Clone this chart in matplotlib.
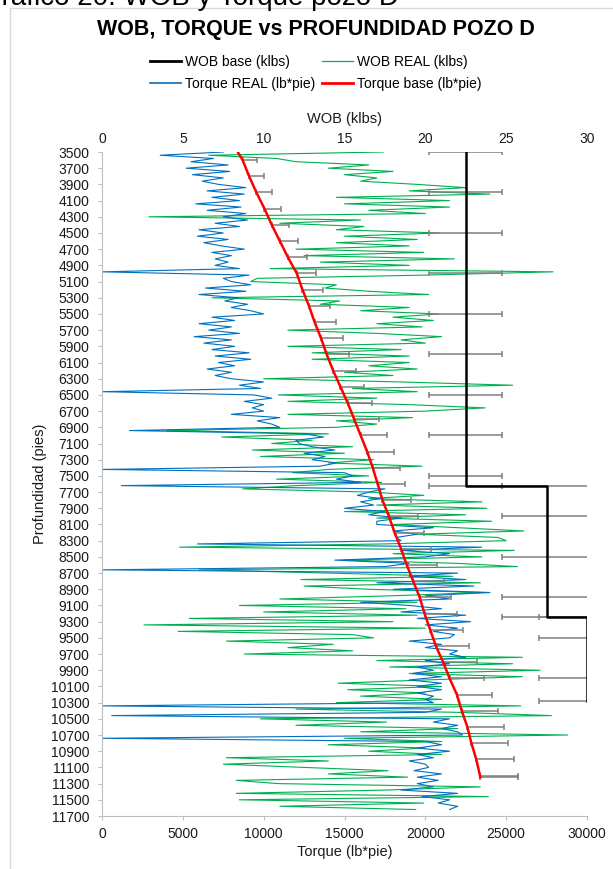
import numpy as np
import matplotlib
matplotlib.use("Agg")
import matplotlib.pyplot as plt
from matplotlib.lines import Line2D

plt.rcParams['font.family'] = ['Liberation Sans', 'DejaVu Sans']

# depth grid of the logged (real) data, every 40 ft
depth_real = np.arange(3500, 11621, 40)

# Torque REAL (thousands of lb*pie), read per 200 ft block
torque_real_k = [
    7.5, 3.6, 6.9, 5.5, 7.8,      # 3500
    5.2, 7.9, 5.6, 7.5, 6.2,      # 3700
    7.2, 8.9, 6.5, 8.8, 6.8,      # 3900
    8.5, 5.8, 8.6, 6.5, 8.9,      # 4100
    7.5, 9.0, 7.0, 8.5, 6.0,      # 4300
    7.5, 5.9, 7.8, 6.3, 7.4,      # 4500
    8.8, 6.8, 8.0, 7.0, 7.8,      # 4700
    7.0, 8.5, 0.0, 9.1, 7.5,      # 4900
    8.0, 9.2, 6.4, 8.9, 6.0,      # 5100
    8.4, 7.6, 9.0, 8.0, 9.2,      # 5300
    10.0, 6.8, 8.2, 6.0, 8.0,     # 5500
    6.6, 8.5, 5.7, 8.0, 6.3,      # 5700
    8.2, 6.8, 9.1, 7.0, 9.2,      # 5900
    7.2, 8.2, 6.5, 8.0, 7.0,      # 6100
    8.0, 10.0, 8.5, 9.8, 0.0,     # 6300
    9.4, 10.5, 8.8, 10.0, 9.3,    # 6500
    10.0, 8.0, 11.0, 9.6, 10.5,   # 6700
    11.0, 1.7, 12.5, 13.7, 12.0,  # 6900
    12.2, 13.0, 14.4, 12.5, 13.8, # 7100
    13.0, 14.5, 13.5, 0.0, 15.0,  # 7300
    15.5, 14.5, 16.0, 1.2, 17.5,  # 7500
    16.5, 15.8, 17.2, 16.0, 16.8, # 7700
    15.0, 17.5, 16.5, 18.5, 17.0, # 7900
    17.0, 20.5, 18.0, 19.5, 18.2, # 8100
    18.5, 5.9, 23.5, 18.5, 21.5,  # 8300
    20.0, 14.4, 19.0, 17.5, 0.0,  # 8500
    22.0, 19.0, 22.5, 17.0, 23.0, # 8700
    18.0, 24.0, 20.0, 21.5, 16.0, # 8900
    19.0, 21.0, 18.5, 22.5, 19.5, # 9100
    22.8, 20.0, 22.0, 20.5, 21.8, # 9300
    21.5, 19.0, 21.0, 20.0, 22.0, # 9500
    21.5, 22.5, 20.0, 21.5, 19.5, # 9700
    20.5, 19.2, 21.0, 19.0, 21.0, # 9900
    19.5, 21.0, 19.5, 20.5, 20.0, # 10100
    20.5, 0.0, 21.0, 20.0, 0.6,   # 10300
    21.5, 20.5, 22.0, 21.0, 22.0, # 10500
    22.3, 0.0, 20.0, 21.0, 19.5,  # 10700
    21.5, 19.5, 20.5, 19.0, 20.0, # 10900
    20.2, 19.3, 21.0, 19.5, 20.8, # 11100
    19.5, 20.5, 18.5, 22.0, 19.8, # 11300
    21.5, 20.8, 22.0, 21.5,       # 11500
]

# WOB REAL (klbs)
wob_real = [
    17.4, 6.6, 10.8, 12.0, 16.5,  # 3500
    14.0, 18.0, 15.0, 17.0, 16.0, # 3700
    19.5, 22.5, 19.0, 24.0, 14.5, # 3900
    21.5, 15.0, 21.5, 16.5, 20.0, # 4100
    2.9, 16.0, 11.0, 16.2, 14.5,  # 4300
    20.9, 15.0, 19.5, 14.5, 19.0, # 4500
    12.0, 19.9, 12.5, 21.8, 13.5, # 4700
    19.0, 10.4, 27.9, 20.0, 9.6,  # 4900
    9.2, 14.5, 13.8, 16.5, 20.2,  # 5100
    6.8, 14.7, 13.5, 19.0, 16.0,  # 5300
    20.8, 18.0, 20.5, 17.0, 19.8, # 5500
    11.5, 17.0, 21.0, 18.5, 20.0, # 5700
    11.5, 18.5, 13.0, 19.0, 13.0, # 5900
    19.0, 16.5, 19.5, 15.0, 18.0, # 6100
    10.0, 18.5, 25.4, 15.5, 19.5, # 6300
    10.9, 17.0, 11.5, 19.0, 23.7, # 6500
    20.0, 11.5, 19.2, 14.5, 17.0, # 6700
    14.5, 4.0, 14.0, 7.4, 13.0,   # 6900
    10.5, 15.5, 9.3, 15.0, 9.8,   # 7100
    16.8, 14.0, 19.8, 14.0, 11.8, # 7300
    16.5, 10.8, 17.3, 12.0, 8.7,  # 7500
    16.6, 19.9, 16.5, 23.5, 17.0, # 7700
    23.8, 15.0, 22.5, 17.0, 24.1, # 7900
    18.0, 22.0, 26.1, 19.5, 24.5, # 8100
    25.0, 17.5, 4.8, 25.5, 18.0,  # 8300
    23.5, 15.0, 22.0, 25.7, 6.0,  # 8500
    14.0, 21.7, 12.3, 23.4, 12.5, # 8700
    16.5, 23.5, 18.0, 11.0, 19.5, # 8900
    8.5, 18.8, 10.0, 19.5, 5.4,   # 9100
    18.0, 2.6, 20.0, 4.7, 15.5,   # 9300
    16.8, 7.7, 14.3, 11.5, 15.5,  # 9500
    8.8, 26.0, 17.0, 25.4, 17.8,  # 9700
    27.1, 19.0, 26.0, 20.0, 14.6, # 9900
    21.0, 15.2, 20.0, 16.0, 21.0, # 10100
    14.5, 25.9, 12.0, 22.0, 27.8, # 10300
    9.8, 17.6, 12.0, 22.0, 16.0,  # 10500
    28.8, 15.0, 21.0, 14.0, 20.0, # 10700
    16.5, 21.0, 7.7, 14.0, 7.5,   # 10900
    12.5, 17.7, 14.0, 18.9, 8.3,  # 11100
    10.9, 23.4, 17.5, 8.3, 23.9,  # 11300
    8.5, 19.9, 11.0, 19.4,        # 11500
]

# WOB base (klbs), stepped design values
depth_wob_base = [3500, 4000, 4500, 5000, 5500, 6000, 6500, 7000, 7500, 7620,
                  7620, 8000, 8500, 9000, 9240,
                  9240, 9500, 10000, 10280]
wob_base = [22.5, 22.5, 22.5, 22.5, 22.5, 22.5, 22.5, 22.5, 22.5, 22.5,
            27.5, 27.5, 27.5, 27.5, 27.5,
            30.0, 30.0, 30.0, 30.0]

# Torque base (lb*pie)
depth_torque_base = [3500, 3600, 3800, 4000, 4200, 4400, 4600, 4800, 5000, 5200,
                     5400, 5600, 5800, 6000, 6200, 6400, 6600, 6800, 7000, 7200,
                     7400, 7600, 7800, 8000, 8200, 8400, 8600, 8800, 9000, 9200,
                     9400, 9600, 9800, 10000, 10200, 10400, 10600, 10800, 11000,
                     11200, 11220]
torque_base = [8400, 8700, 9100, 9550, 10050, 10500, 11000, 11500, 12050, 12400,
               12800, 13150, 13550, 13900, 14300, 14750, 15200, 15600, 16000, 16400,
               16750, 17050, 17350, 17750, 18100, 18500, 18850, 19250, 19650, 19950,
               20300, 20650, 21100, 21500, 21950, 22250, 22600, 22850, 23150,
               23380, 23400]

err_pct = 0.10  # percentage error bars

torque_ticks = [0, 5000, 10000, 15000, 20000, 25000, 30000]
wob_ticks = [0, 5, 10, 15, 20, 25, 30]
depth_ticks = list(range(3500, 11701, 200))

text_col = '#1a1a1a'
W, H = 613, 869
fig = plt.figure(figsize=(W / 100, H / 100), dpi=100)

# chart-area border (partly outside the picture)
fig.add_artist(Line2D([10 / W, 10 / W, 1.0], [0.0, 1 - 8 / H, 1 - 8 / H],
                      transform=fig.transFigure, color='#d9d9d9', lw=1))

# clipped caption above the chart
fig.text(-20 / W, 1 - 5 / H, 'Gráfico 20. WOB y Torque pozo D', fontsize=20,
         ha='left', va='baseline', color='black')

ax = fig.add_axes([102 / W, 1 - 816 / H, 485 / W, 664 / H])
ax2 = ax.twiny()
ax.set_zorder(ax2.get_zorder() + 1)
ax.patch.set_visible(False)


def clip_container(cont, axis):
    for part in cont.lines:
        items = part if isinstance(part, (tuple, list)) else [part]
        for it in items:
            if it is not None:
                it.set_clip_on(True)
                it.set_clip_box(axis.bbox)


# WOB series on top axis
ax2.plot(wob_real, depth_real, color='#00b050', lw=0.8)
eb1 = ax2.errorbar(wob_base, depth_wob_base, xerr=np.array(wob_base) * err_pct,
                   fmt='none', ecolor='#808080', elinewidth=1.1, capsize=2.5, capthick=1.1)
clip_container(eb1, ax2)
ax2.plot(wob_base, depth_wob_base, color='black', lw=1.8)

# Torque series on bottom axis
ax.plot(np.array(torque_real_k) * 1000, depth_real, color='#0070c0', lw=0.8)
tb = np.array(torque_base[1:])
eb2 = ax.errorbar(tb, depth_torque_base[1:], xerr=[np.zeros_like(tb), tb * err_pct],
                  fmt='none', ecolor='#808080', elinewidth=1.1, capsize=2.5, capthick=1.1)
clip_container(eb2, ax)
ax.plot(torque_base, depth_torque_base, color='#ff0000', lw=1.8)

ax.set_xlim(0, 30000)
ax2.set_xlim(0, 30)
ax.set_ylim(11700, 3500)

ax.set_xticks(torque_ticks)
ax.set_xticklabels([str(t) for t in torque_ticks])
ax2.set_xticks(wob_ticks)
ax.set_yticks(depth_ticks)

ax2.grid(axis='y', color='#d9d9d9', lw=0.9)
ax2.set_axisbelow(True)

for s in ['top', 'right']:
    ax.spines[s].set_visible(False)
for s in ['left', 'bottom']:
    ax.spines[s].set_color('#bfbfbf')
for s in ax2.spines.values():
    s.set_visible(False)

ax.tick_params(axis='x', length=3, color='#bfbfbf', pad=5, labelsize=10, labelcolor=text_col)
ax.tick_params(axis='y', length=3, color='#bfbfbf', pad=6, labelsize=10, labelcolor=text_col)
ax2.tick_params(axis='x', length=0, pad=4, labelsize=10, labelcolor=text_col)

ax.set_xlabel('Torque (lb*pie)', fontsize=10.5, color=text_col, labelpad=3)
ax.set_ylabel('Profundidad (pies)', fontsize=10.5, color=text_col, labelpad=3)
ax2.set_xlabel('WOB (klbs)', fontsize=10.5, color=text_col, labelpad=6.5)

fig.text(0.515, 1 - 30 / H, 'WOB, TORQUE vs PROFUNDIDAD POZO D', fontsize=15.5,
         fontweight='bold', ha='center', va='center', color='black')

handles = [Line2D([], [], color='black', lw=2),
           Line2D([], [], color='#0070c0', lw=1.2),
           Line2D([], [], color='#00b050', lw=0.9),
           Line2D([], [], color='#ff0000', lw=2)]
labels = ['WOB base (klbs)', 'Torque REAL (lb*pie)', 'WOB REAL (klbs)', 'Torque base (lb*pie)']
fig.legend(handles, labels, ncol=2, loc='center', bbox_to_anchor=(0.515, 1 - 73 / H),
           frameon=False, fontsize=10, handlelength=2.2, handletextpad=0.3,
           columnspacing=0.5, labelspacing=0.6)

fig.savefig('out.png', dpi=100)
